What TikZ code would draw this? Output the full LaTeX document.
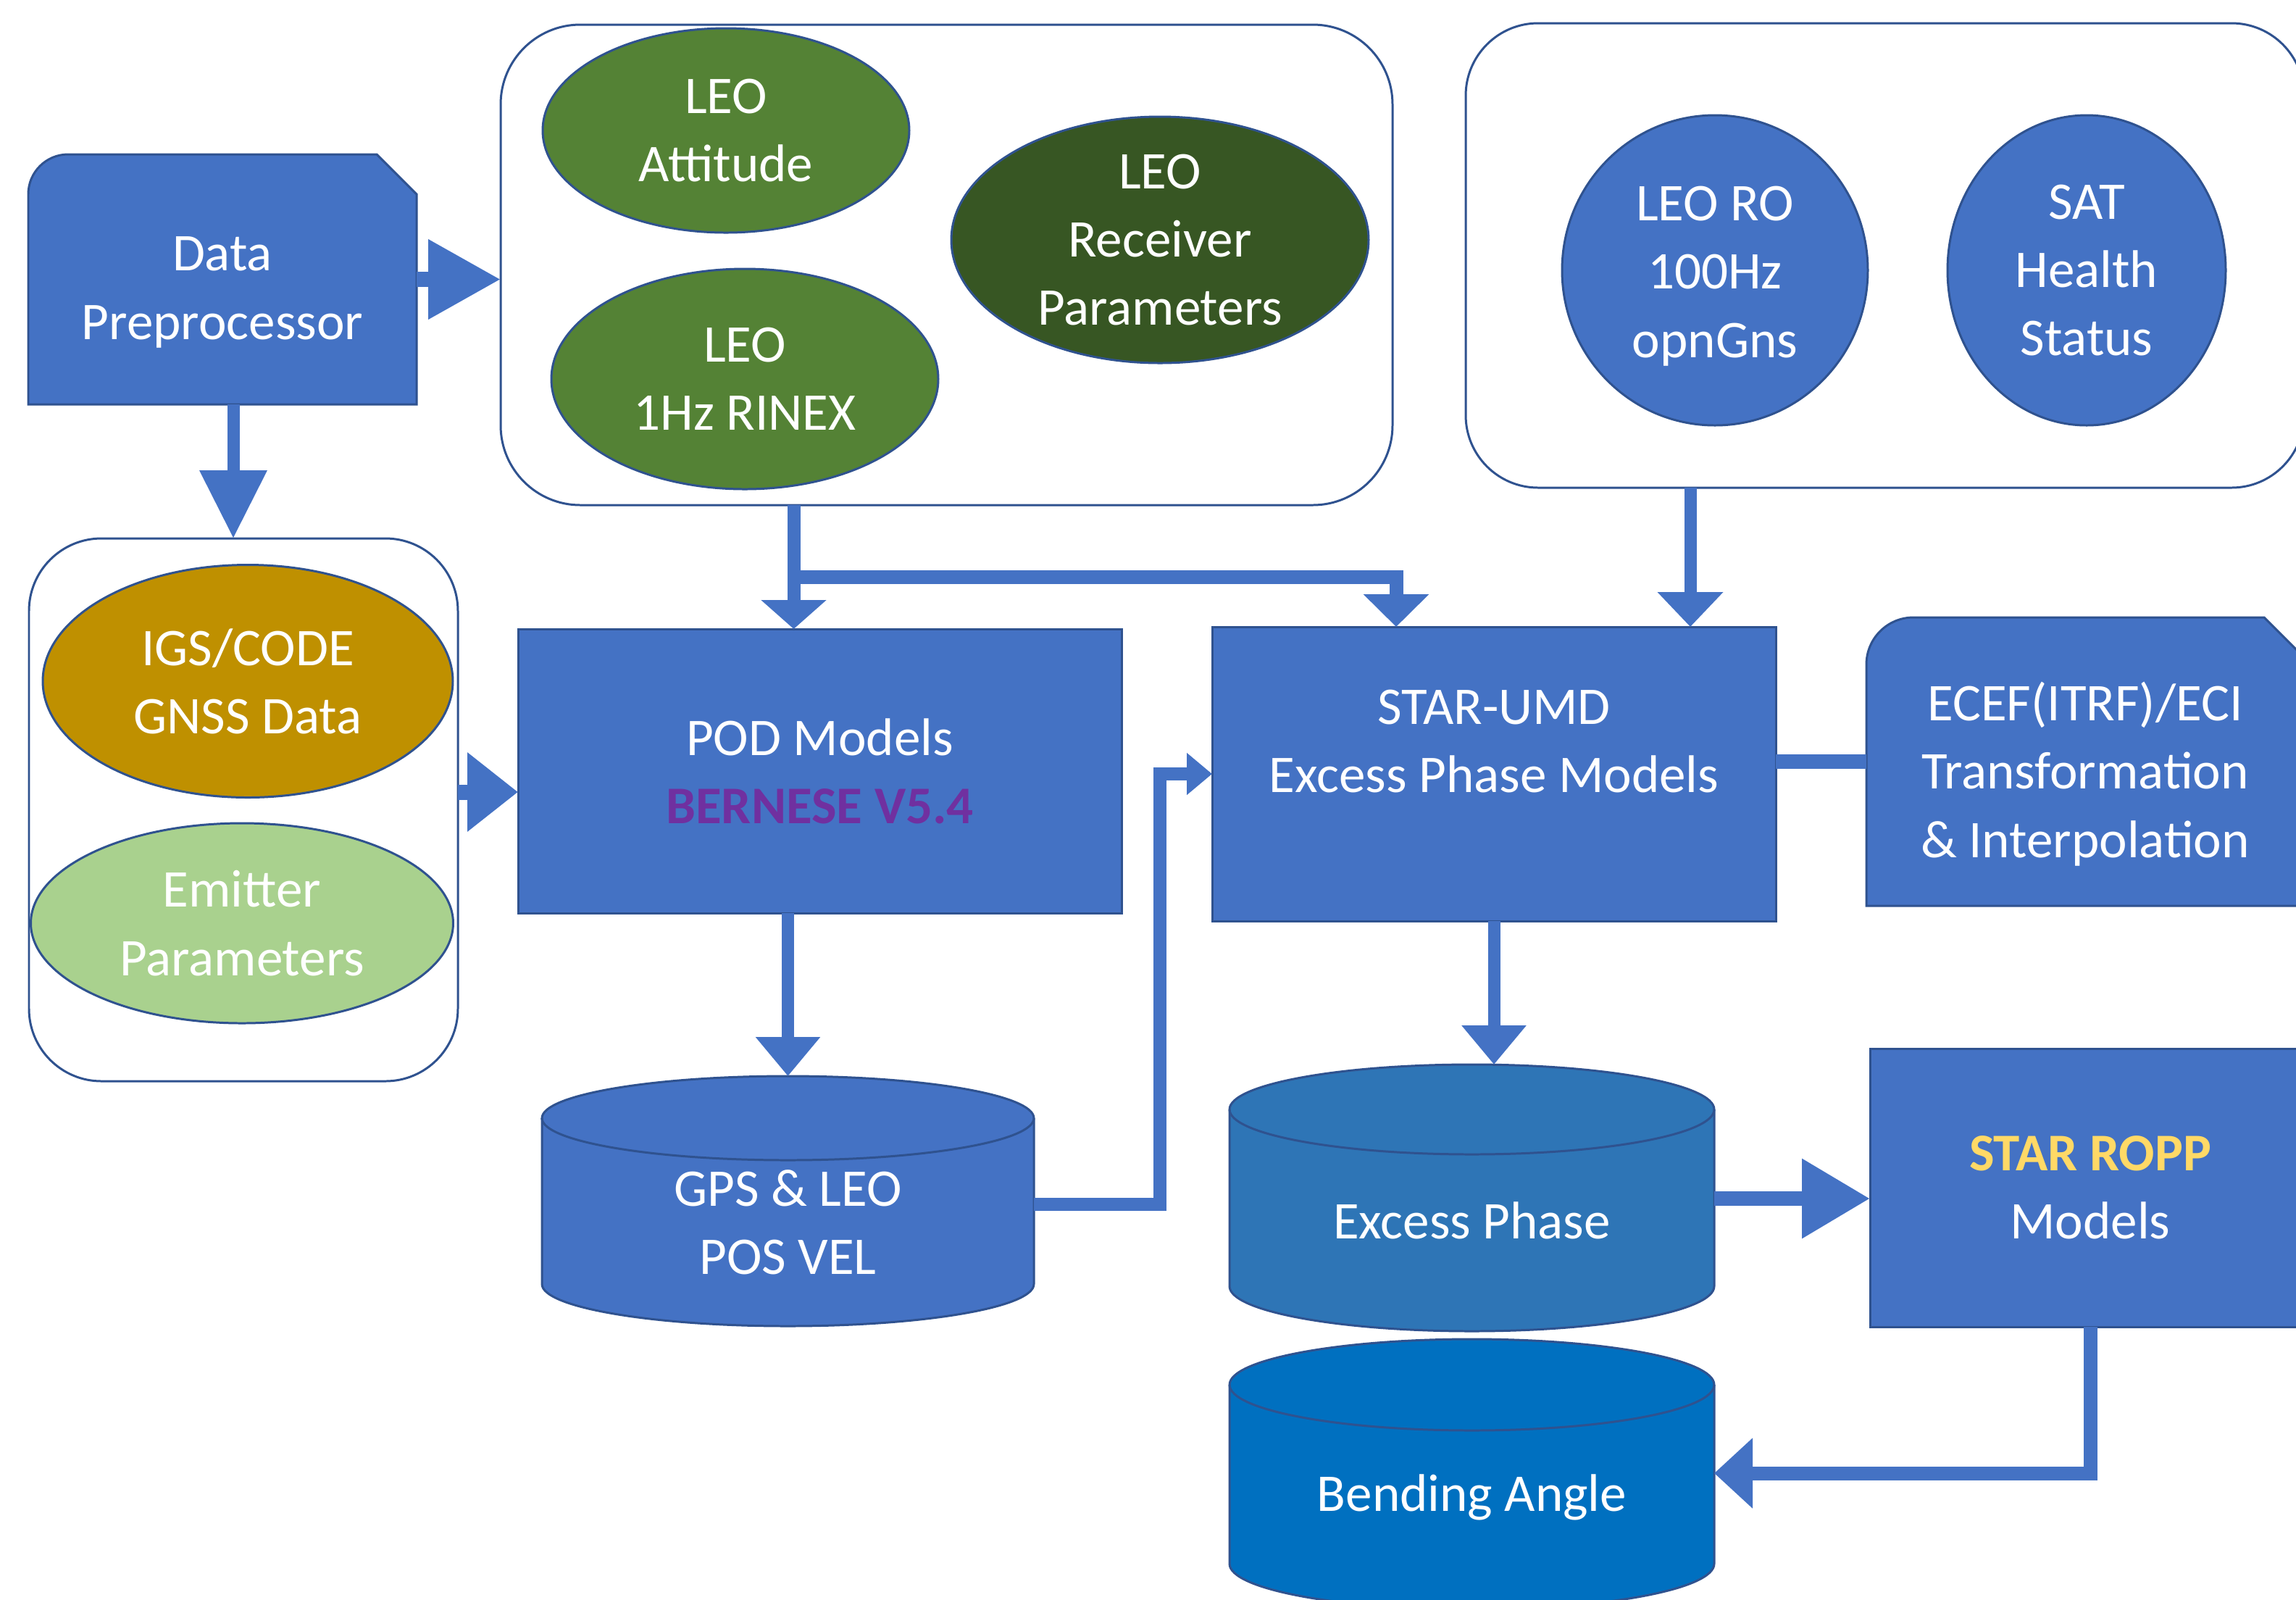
\documentclass[tikz,border=0pt]{standalone}
\usepackage{fontspec}
\setmainfont{Carlito}
\usetikzlibrary{shapes.geometric,arrows.meta,backgrounds}

\definecolor{boxblue}{HTML}{4472C4}
\definecolor{edgeblue}{HTML}{2F528F}
\definecolor{leogreen}{HTML}{548235}
\definecolor{darkgreen}{HTML}{375623}
\definecolor{igsgold}{HTML}{BF9000}
\definecolor{lightgreen}{HTML}{A9D18E}
\definecolor{phaseblue}{HTML}{2E75B6}
\definecolor{bendblue}{HTML}{0070C0}
\definecolor{bernpurple}{HTML}{7030A0}
\definecolor{roppgold}{HTML}{FFD966}

% database drum behind a text node: name, x radius, y radius, colour
\newcommand{\drum}[4]{%
  \filldraw[fill=#4, draw=edgeblue, line width=0.85pt]
    (#1.north west) -- ([yshift=#3]#1.south west)
    arc[start angle=180, end angle=360, x radius=#2, y radius=#3]
    -- (#1.north east)
    arc[start angle=0, end angle=180, x radius=#2, y radius=#3] -- cycle;
  \draw[edgeblue, line width=0.85pt] (#1.north west)
    arc[start angle=180, end angle=360, x radius=#2, y radius=#3];
}
% box with round top-left and snipped top-right corner: name, radius, snip
\newcommand{\snipbox}[3]{%
  \filldraw[fill=boxblue, draw=edgeblue, line width=0.85pt]
    (#1.south west) -- ([yshift=-#2]#1.north west)
    arc[start angle=180, end angle=90, radius=#2]
    -- ([xshift=-#3]#1.north east) -- ([yshift=-#3]#1.north east)
    -- (#1.south east) -- cycle;
}

\begin{document}
\begin{tikzpicture}[
	lbl/.style={text=white, align=center, font=\fontsize{20.8}{26.8}\selectfont, inner sep=0pt, outer sep=0pt},
	procbox/.style={lbl, rectangle, fill=boxblue, draw=edgeblue, line width=0.85pt},
	dataell/.style={lbl, ellipse, draw=edgeblue, line width=0.85pt},
	group/.style={rectangle, draw=edgeblue, fill=white, line width=0.85pt, outer sep=0pt},
	flow/.style={draw=boxblue, line width=0.19cm, line join=miter}]
	\useasboundingbox (0,0) rectangle (31.69,-22.07);

	\node[group, rounded corners=1.1cm, minimum width=12.31cm, minimum height=6.63cm] (grpB) at (13.065,-3.655) {};
	\node[group, rounded corners=1cm, minimum width=11.57cm, minimum height=6.41cm] (grpC) at (26.015,-3.525) {};
	\node[group, rounded corners=1cm, minimum width=5.92cm, minimum height=7.49cm] (grpA) at (3.36,-11.175) {};

	\node[dataell, fill=leogreen, minimum width=5.06cm, minimum height=2.82cm] (att) at (10.02,-1.80) {LEO\\Attitude};
	\node[dataell, fill=leogreen, minimum width=5.34cm, minimum height=3.04cm] (rinex) at (10.28,-5.23) {LEO\\1Hz RINEX};
	\node[dataell, fill=darkgreen, minimum width=5.76cm, minimum height=3.40cm] (rcv) at (16.01,-3.31) {LEO\\Receiver\\Parameters};
	\node[dataell, fill=boxblue, minimum width=4.22cm, minimum height=4.28cm, text height=2.6cm, text depth=0.2cm] (leoro) at (23.67,-3.73) {LEO RO\\100Hz\\opnGns};
	\node[dataell, fill=boxblue, minimum width=3.84cm, minimum height=4.28cm] (health) at (28.80,-3.73) {SAT\\Health\\Status};
	\node[dataell, fill=igsgold, minimum width=5.66cm, minimum height=3.21cm] (igs) at (3.42,-9.40) {IGS/CODE\\GNSS Data};
	\node[dataell, fill=lightgreen, minimum width=5.83cm, minimum height=2.76cm] (emit) at (3.34,-12.74) {Emitter\\Parameters};

	\node[lbl, minimum width=5.36cm, minimum height=3.45cm, text height=1.95cm, text depth=0.3cm] (prep) at (3.07,-3.855) {Data\\Preprocessor};
	\node[procbox, minimum width=8.33cm, minimum height=3.92cm] (pod) at (11.315,-10.64) {POD Models\\\textcolor{bernpurple}{\bfseries BERNESE V5.4}};
	\node[procbox, minimum width=7.78cm, minimum height=4.06cm, text depth=0.9cm] (umd) at (20.62,-10.68) {STAR-UMD\\Excess Phase Models};
	\node[lbl, minimum width=6.04cm, minimum height=3.98cm, text height=2.94cm, text depth=0.3cm] (ecef) at (28.78,-10.51) {ECEF(ITRF)/ECI\\Transformation\\\& Interpolation};
	\node[procbox, minimum width=6.08cm, minimum height=3.84cm] (ropp) at (28.85,-16.39) {\textcolor{roppgold}{\bfseries STAR ROPP}\\Models};
	\node[lbl, minimum width=6.79cm, minimum height=2.87cm] (gps) at (10.875,-16.865) {GPS \& LEO\\POS VEL};
	\node[lbl, minimum width=6.69cm, minimum height=3.06cm] (excess) at (20.315,-16.84) {Excess Phase};
	\node[lbl, minimum width=6.69cm, minimum height=3.10cm] (bend) at (20.315,-20.66) {Bending Angle};

	\begin{scope}[on background layer]
		\snipbox{prep}{5.5mm}{5.5mm}
		\snipbox{ecef}{6.5mm}{5.5mm}
		\drum{gps}{3.395cm}{5.8mm}{boxblue}
		\drum{excess}{3.345cm}{6.2mm}{phaseblue}
		\drum{bend}{3.345cm}{6.3mm}{bendblue}
	\end{scope}

	\coordinate (prepdown) at ([xshift=1.5mm]prep.south);
	\coordinate (grpAout) at ([yshift=2.45mm]grpA.east);
	\coordinate (podin) at ([xshift=-3.6mm]pod.north);
	\coordinate (split) at ([yshift=7.2mm]podin);
	\coordinate (umdbranch) at ([xshift=-13.5mm]umd.north);
	\coordinate (umdright) at ([xshift=27.1mm]umd.north);
	\coordinate (gpstop) at ([yshift=5.8mm]gps.north);
	\coordinate (gpsout) at ([yshift=2.5mm]gps.east);
	\coordinate (exctop) at ([yshift=6.2mm]excess.north);
	\coordinate (excout) at ([yshift=3mm]excess.east);
	\coordinate (bendin) at ([yshift=3.3mm]bend.east);

	\draw[flow, line width=0.21cm, -{Triangle[length=10mm, width=10.5mm]}] (prep.east) -- (prep.east -| grpB.west);
	\draw[flow, line width=0.17cm, -{Triangle[length=9.4mm, width=8.9mm]}] (prepdown) -- (prepdown |- grpA.north);
	\draw[flow, line width=0.21cm, -{Triangle[length=7mm, width=10.5mm]}] (grpAout) -- (grpAout -| pod.west);
	\draw[flow, line width=0.18cm, -{Triangle[length=4mm, width=8.8mm]}] (podin |- grpB.south) -- (podin);
	\draw[flow, -{Triangle[length=4.5mm, width=8.8mm]}] (split) -| (umdbranch);
	\draw[flow, line width=0.17cm, -{Triangle[length=4.8mm, width=8.8mm]}] (umdright |- grpC.south) -- (umdright);
	\draw[flow, line width=0.17cm, -{Triangle[length=5.4mm, width=8.6mm]}] (pod.south -| gpstop) -- (gpstop);
	\draw[flow, line width=0.18cm, -{Triangle[length=3.5mm, width=5.6mm]}] (gpsout) -| ([xshift=-7.2mm]umd.west) -- (umd.west);
	\draw[flow, line width=0.17cm, -{Triangle[length=5.4mm, width=8.6mm]}] (umd.south) -- (umd.south |- exctop);
	\draw[flow, line width=0.2cm, -{Triangle[length=9.4mm, width=10.5mm]}] (excout) -- (excout -| ropp.west);
	\draw[flow, -{Triangle[length=5.3mm, width=9.4mm]}] (ropp.south) |- (bendin);
	\draw[flow, line width=0.2cm] (ecef.west -| umd.east) -- (ecef.west);
\end{tikzpicture}
\end{document}
